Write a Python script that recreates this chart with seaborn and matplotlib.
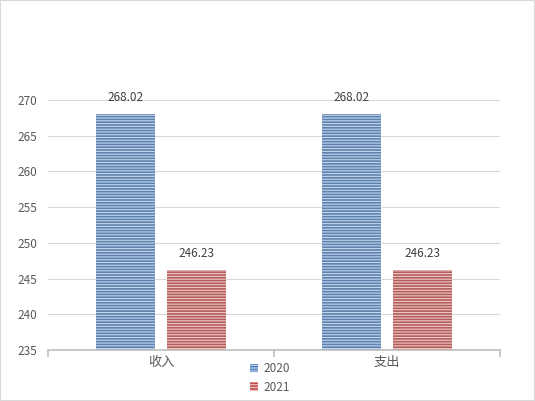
import matplotlib.pyplot as plt
import matplotlib.patches as mpatches
import pandas as pd
import seaborn as sns

categories = ['收入', '支出']
series = ['2020', '2021']
values_2020 = [268.02, 268.02]
values_2021 = [246.23, 246.23]

df = pd.DataFrame({
    'cat': categories * 2,
    'year': [series[0]] * 2 + [series[1]] * 2,
    'value': values_2020 + values_2021,
})

sns.set_theme(style='white')
plt.rcParams['font.family'] = ['Noto Sans CJK SC', 'DejaVu Sans']
plt.rcParams['hatch.linewidth'] = 0.8

colors = {'2020': '#4F81BD', '2021': '#C0504D'}
stripe = {'2020': '#C6D6EC', '2021': '#F0C8C7'}

fig = plt.figure(figsize=(5.35, 4.01), dpi=100)
ax = fig.add_axes([48 / 535, 1 - 350 / 401, 452 / 535, 250 / 401])
sns.barplot(data=df, x='cat', y='value', hue='year', palette=colors,
            width=0.633, gap=0.175, ax=ax, legend=False)

for cont, yr in zip(ax.containers, series):
    for p in cont:
        p.set_edgecolor(stripe[yr])
        p.set_linewidth(0)
        p.set_hatch('------')
    ax.bar_label(cont, fmt='%.2f', padding=7, fontsize=8.5, color='#404040')

ax.set_ylim(235, 270)
ax.set_yticks(range(235, 271, 5))
ax.set_xlim(-0.5, 1.5)
ax.grid(axis='y', color='#D9D9D9', linewidth=0.8)
ax.set_axisbelow(True)
for s in ['top', 'right', 'left']:
    ax.spines[s].set_visible(False)
ax.spines['bottom'].set_color('#BFBFBF')
ax.spines['bottom'].set_linewidth(1.2)
ax.set_xlabel('')
ax.set_ylabel('')
ax.tick_params(axis='y', length=0, labelsize=8.5, labelcolor='#595959', pad=8)
ax.tick_params(axis='x', which='major', length=0, labelsize=9.5, labelcolor='#595959', pad=4)
ax.set_xticks([-0.5, 0.5, 1.5], minor=True)
ax.tick_params(axis='x', which='minor', bottom=True, length=5, width=1.2,
               color='#BFBFBF', direction='out')

handles = []
for yr in series:
    handles.append(mpatches.Patch(facecolor=colors[yr], edgecolor=stripe[yr],
                                  linewidth=0, hatch='------', label=yr))
fig.legend(handles=handles, loc='center', bbox_to_anchor=(270 / 535, 1 - 378 / 401),
           ncol=1, frameon=False, fontsize=8.5, labelcolor='#595959',
           handlelength=0.7, handleheight=0.7, handletextpad=0.5, labelspacing=0.45)

fig.patches.append(mpatches.Rectangle((0, 0), 1, 1, transform=fig.transFigure,
                                      fill=False, edgecolor='#D9D9D9', linewidth=1.5))
fig.savefig('out.png', dpi=100)
